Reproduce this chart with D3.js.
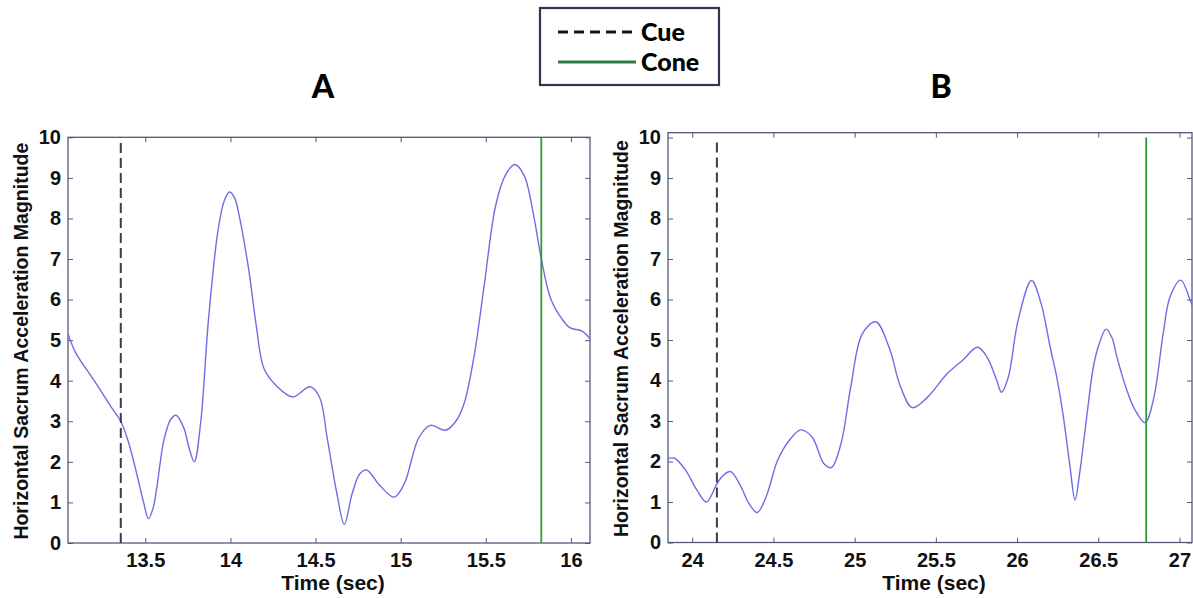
<!DOCTYPE html>
<html>
<head>
<meta charset="utf-8">
<script src="https://cdn.jsdelivr.net/npm/d3@7"></script>
<style>
  html, body { margin: 0; padding: 0; background: #fff; }
  svg { display: block; }
  .tick-label { font-family: "Liberation Sans", Arial, sans-serif; font-weight: bold; font-size: 20px; fill: #111; }
  .axis-title { font-family: "Liberation Sans", Arial, sans-serif; font-weight: bold; fill: #111; }
  .panel-title { font-family: Lato, "Open Sans", sans-serif; font-weight: 900; font-size: 32px; fill: #000; }
  .legend-text { font-family: Lato, "Open Sans", sans-serif; font-weight: 900; font-size: 25px; fill: #000; }
</style>
</head>
<body>
<svg id="chart" width="1193" height="598"></svg>
<script>
// Panel A: time (s) and horizontal sacrum acceleration magnitude
const timeA = [13.046, 13.09, 13.2, 13.3, 13.356, 13.40, 13.45, 13.49, 13.518, 13.545, 13.567, 13.61, 13.65, 13.68, 13.725, 13.76, 13.788, 13.826, 13.871, 13.927, 13.965, 13.995, 14.025, 14.05, 14.107, 14.152, 14.197, 14.264, 14.366, 14.467, 14.523, 14.568, 14.624, 14.669, 14.714, 14.759, 14.80, 14.871, 14.961, 15.02, 15.107, 15.175, 15.265, 15.332, 15.377, 15.433, 15.489, 15.557, 15.613, 15.67, 15.726, 15.782, 15.826, 15.883, 15.951, 15.996, 16.063, 16.112];
const accA  = [5.16, 4.7, 4.0, 3.35, 3.0, 2.5, 1.7, 1.0, 0.6, 0.85, 1.35, 2.55, 3.05, 3.15, 2.85, 2.3, 2.0, 3.0, 5.5, 7.7, 8.45, 8.65, 8.5, 8.1, 6.75, 5.35, 4.3, 3.9, 3.6, 3.85, 3.6, 2.6, 1.25, 0.46, 1.2, 1.7, 1.8, 1.45, 1.13, 1.45, 2.6, 2.9, 2.78, 3.05, 3.5, 4.65, 6.3, 8.3, 9.05, 9.33, 9.05, 8.05, 7.0, 6.0, 5.5, 5.3, 5.23, 5.04];

// Panel B
const timeB = [23.851, 23.891, 23.957, 24.028, 24.088, 24.152, 24.194, 24.237, 24.30, 24.348, 24.40, 24.455, 24.526, 24.597, 24.668, 24.739, 24.81, 24.857, 24.916, 24.976, 25.047, 25.13, 25.212, 25.283, 25.355, 25.449, 25.568, 25.662, 25.757, 25.816, 25.875, 25.904, 25.946, 26.006, 26.089, 26.148, 26.203, 26.244, 26.285, 26.326, 26.357, 26.385, 26.429, 26.47, 26.505, 26.548, 26.585, 26.614, 26.675, 26.727, 26.788, 26.839, 26.9, 26.942, 27.008, 27.065, 27.083];
const accB  = [2.07, 2.08, 1.8, 1.3, 1.0, 1.45, 1.67, 1.75, 1.38, 0.97, 0.74, 1.13, 2.03, 2.52, 2.78, 2.6, 1.95, 1.85, 2.44, 3.84, 5.15, 5.45, 4.82, 3.84, 3.33, 3.59, 4.16, 4.49, 4.82, 4.57, 4.0, 3.71, 4.08, 5.48, 6.47, 5.9, 4.84, 4.09, 3.11, 1.87, 1.05, 1.7, 3.11, 4.34, 4.9, 5.27, 5.05, 4.59, 3.77, 3.27, 2.96, 3.52, 5.17, 6.07, 6.48, 5.99, 5.8];

// Event markers (s)
const cueTimes  = [13.356, 24.152];
const coneTimes = [15.826, 26.795];

const panelTitles = ["A", "B"];
const xTicksA = [13.5, 14, 14.5, 15, 15.5, 16];
const xTicksB = [24, 24.5, 25, 25.5, 26, 26.5, 27];
const yTicks  = [0, 1, 2, 3, 4, 5, 6, 7, 8, 9, 10];
const legendLabels = ["Cue", "Cone"];
const xTitle = "Time (sec)";
const yTitle = "Horizontal Sacrum Acceleration Magnitude";

const svg = d3.select("#chart");

const panels = [
  { title: panelTitles[0], t: timeA, v: accA, cue: cueTimes[0], cone: coneTimes[0], xTicks: xTicksA,
    xDom: [13.046, 16.112], xRange: [68, 590], yDom: [0, 10], yRange: [543, 137.3], titlePos: [323, 98] },
  { title: panelTitles[1], t: timeB, v: accB, cue: cueTimes[1], cone: coneTimes[1], xTicks: xTicksB,
    xDom: [23.851, 27.077], xRange: [668, 1192], yDom: [0, 10.12], yRange: [542.5, 132.7], titlePos: [941, 98] }
];

const spineColor = "#56567a";
const tickLen = 5;

panels.forEach((p, i) => {
  const x = d3.scaleLinear().domain(p.xDom).range(p.xRange);
  const y = d3.scaleLinear().domain(p.yDom).range(p.yRange);
  const [x0, x1] = p.xRange;
  const [yb, yt] = p.yRange;
  const g = svg.append("g");

  const clipId = "clip" + i;
  svg.append("clipPath").attr("id", clipId)
    .append("rect").attr("x", x0).attr("y", yt).attr("width", x1 - x0).attr("height", yb - yt);

  // Bottom axis with labels, inward ticks
  g.append("g").attr("transform", `translate(0,${yb})`)
    .call(d3.axisBottom(x).tickValues(p.xTicks).tickSize(-tickLen).tickFormat(d3.format("")))
    .call(a => a.select(".domain").remove())
    .call(a => a.selectAll("line").attr("stroke", spineColor))
    .call(a => a.selectAll("text").attr("class", "tick-label").attr("dy", "0.71em").attr("y", 10));
  // Top ticks
  g.append("g").attr("transform", `translate(0,${yt})`)
    .call(d3.axisTop(x).tickValues(p.xTicks).tickSize(-tickLen).tickFormat(""))
    .call(a => a.select(".domain").remove())
    .call(a => a.selectAll("line").attr("stroke", spineColor));
  // Left axis with labels
  g.append("g").attr("transform", `translate(${x0},0)`)
    .call(d3.axisLeft(y).tickValues(yTicks).tickSize(-tickLen).tickFormat(d3.format("d")))
    .call(a => a.select(".domain").remove())
    .call(a => a.selectAll("line").attr("stroke", spineColor))
    .call(a => a.selectAll("text").attr("class", "tick-label").attr("x", -7));
  // Right ticks
  g.append("g").attr("transform", `translate(${x1},0)`)
    .call(d3.axisRight(y).tickValues(yTicks).tickSize(-tickLen).tickFormat(""))
    .call(a => a.select(".domain").remove())
    .call(a => a.selectAll("line").attr("stroke", spineColor));

  // Frame
  g.append("rect").attr("x", x0).attr("y", yt).attr("width", x1 - x0).attr("height", yb - yt)
    .attr("fill", "none").attr("stroke", spineColor).attr("stroke-width", 1.3);

  // Acceleration trace
  const line = d3.line().x(d => x(d[0])).y(d => y(d[1])).curve(d3.curveCatmullRom.alpha(0.5));
  g.append("path").datum(d3.zip(p.t, p.v))
    .attr("clip-path", `url(#${clipId})`)
    .attr("d", line).attr("fill", "none").attr("stroke", "#6d6de6").attr("stroke-width", 1.4);

  // Cue marker (dashed)
  g.append("line").attr("x1", x(p.cue)).attr("x2", x(p.cue)).attr("y1", y(0)).attr("y2", y(10))
    .attr("stroke", "#3a3a52").attr("stroke-width", 2).attr("stroke-dasharray", "10,5");
  // Cone marker
  g.append("line").attr("x1", x(p.cone)).attr("x2", x(p.cone)).attr("y1", y(0)).attr("y2", y(10))
    .attr("stroke", "#2f9a36").attr("stroke-width", 1.8);

  // Axis titles
  g.append("text").attr("class", "axis-title").attr("font-size", 21)
    .attr("x", (x0 + x1) / 2 + 4).attr("y", 590).attr("text-anchor", "middle").text(xTitle);
  g.append("text").attr("class", "axis-title").attr("font-size", 19.5)
    .attr("transform", `translate(${x0 - 40},${(yb + yt) / 2 + 1}) rotate(-90)`)
    .attr("text-anchor", "middle").text(yTitle);

  // Panel title
  svg.append("text").attr("class", "panel-title").attr("x", p.titlePos[0]).attr("y", p.titlePos[1])
    .attr("text-anchor", "middle").text(p.title);
});

// Legend
const leg = svg.append("g");
leg.append("rect").attr("x", 540).attr("y", 8).attr("width", 179).attr("height", 77)
  .attr("fill", "#fff").attr("stroke", "#34344e").attr("stroke-width", 2.2);
leg.append("line").attr("x1", 558).attr("x2", 636).attr("y1", 32).attr("y2", 32)
  .attr("stroke", "#14141e").attr("stroke-width", 3.2).attr("stroke-dasharray", "10,6");
leg.append("line").attr("x1", 558).attr("x2", 636).attr("y1", 62).attr("y2", 62)
  .attr("stroke", "#2e7d45").attr("stroke-width", 3.2);
leg.selectAll("text.legend-text").data(legendLabels).join("text")
  .attr("class", "legend-text").attr("x", 641).attr("y", (d, i) => 41 + i * 30).text(d => d);
</script>
</body>
</html>
